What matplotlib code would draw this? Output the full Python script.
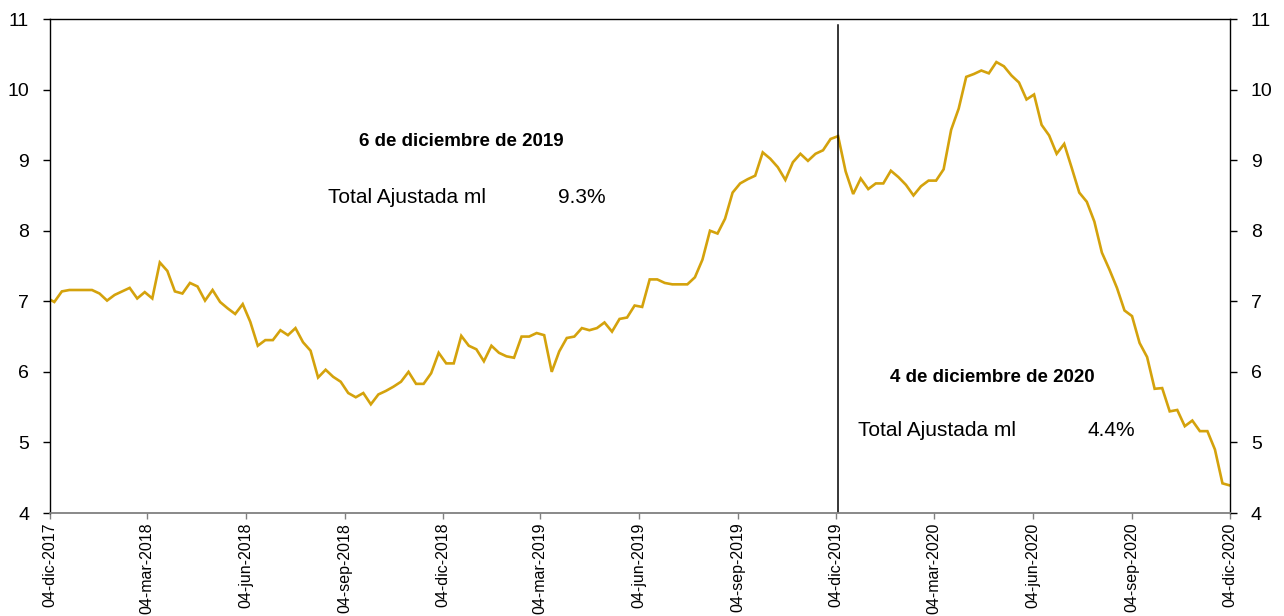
import matplotlib
matplotlib.use("Agg")
import matplotlib.pyplot as plt
import numpy as np
import pandas as pd

plt.rcParams['font.family'] = ['Liberation Sans', 'DejaVu Sans']

# weekly observations (Fridays) from 01-dic-2017 to 04-dic-2020
start_date = "2017-12-01"
values = [
    7.05, 6.99, 7.14, 7.16, 7.16, 7.16, 7.16, 7.11, 7.01, 7.09,
    7.14, 7.19, 7.04, 7.13, 7.04, 7.55, 7.43, 7.14, 7.11, 7.26,
    7.21, 7.01, 7.16, 6.99, 6.90, 6.82, 6.96, 6.71, 6.37, 6.45,
    6.45, 6.59, 6.52, 6.62, 6.42, 6.30, 5.92, 6.03, 5.93, 5.86,
    5.70, 5.64, 5.70, 5.54, 5.68, 5.73, 5.79, 5.86, 6.00, 5.83,
    5.83, 5.98, 6.27, 6.12, 6.12, 6.51, 6.37, 6.32, 6.15, 6.37,
    6.27, 6.22, 6.20, 6.50, 6.50, 6.55, 6.52, 6.00, 6.29, 6.48,
    6.50, 6.62, 6.59, 6.62, 6.70, 6.57, 6.75, 6.77, 6.94, 6.92,
    7.31, 7.31, 7.26, 7.24, 7.24, 7.24, 7.34, 7.59, 8.00, 7.96,
    8.17, 8.54, 8.67, 8.73, 8.78, 9.11, 9.02, 8.90, 8.72, 8.97,
    9.09, 8.99, 9.09, 9.14, 9.30, 9.34, 8.84, 8.52, 8.74, 8.59,
    8.67, 8.67, 8.85, 8.76, 8.65, 8.50, 8.63, 8.71, 8.71, 8.87,
    9.43, 9.73, 10.18, 10.22, 10.27, 10.23, 10.39, 10.33, 10.20, 10.10,
    9.86, 9.93, 9.50, 9.35, 9.09, 9.23, 8.89, 8.54, 8.41, 8.13,
    7.69, 7.45, 7.19, 6.87, 6.79, 6.41, 6.21, 5.76, 5.77, 5.44,
    5.46, 5.23, 5.31, 5.16, 5.16, 4.90, 4.42, 4.39,
]
dates = pd.date_range(start_date, periods=len(values), freq="7D")

tick_dates = ["2017-12-04", "2018-03-04", "2018-06-04", "2018-09-04",
              "2018-12-04", "2019-03-04", "2019-06-04", "2019-09-04",
              "2019-12-04", "2020-03-04", "2020-06-04", "2020-09-04",
              "2020-12-04"]
tick_labels = ["04-dic-2017", "04-mar-2018", "04-jun-2018", "04-sep-2018",
               "04-dic-2018", "04-mar-2019", "04-jun-2019", "04-sep-2019",
               "04-dic-2019", "04-mar-2020", "04-jun-2020", "04-sep-2020",
               "04-dic-2020"]
y_ticks = [4, 5, 6, 7, 8, 9, 10, 11]

marker_date = "2019-12-06"
title1 = "6 de diciembre de 2019"
title2 = "4 de diciembre de 2020"
series_name = "Total Ajustada ml"
pct1 = "9.3%"
pct2 = "4.4%"

W, H = 1284, 616
fig = plt.figure(figsize=(W / 100, H / 100), dpi=100)
ax = fig.add_axes([50 / W, 1 - 513 / H, (1230 - 50) / W, (513 - 19) / H])

ax.plot(dates, values, color="#D4A20C", lw=1.9, solid_joinstyle="miter", clip_on=True)
ax.axvline(pd.Timestamp(marker_date), ymin=0, ymax=0.987, color="black", lw=1.1)

ax.set_xlim(pd.Timestamp(tick_dates[0]), pd.Timestamp(tick_dates[-1]))
ax.set_ylim(4, 11)
ax.set_yticks(y_ticks)
ax.set_yticklabels([str(v) for v in y_ticks])
ax.set_xticks([pd.Timestamp(d) for d in tick_dates])
ax.set_xticklabels(tick_labels, rotation=90, va="top", ha="center")

for s in ["left", "right", "top"]:
    ax.spines[s].set_color("black")
    ax.spines[s].set_linewidth(1.0)
ax.spines["bottom"].set_color("#808080")
ax.spines["bottom"].set_linewidth(1.3)

ax.tick_params(axis="y", which="both", left=True, right=True, labelleft=True,
               labelright=True, direction="out", length=5, width=1.0,
               color="black", labelsize=14, pad=10)
ax.tick_params(axis="x", direction="out", length=4, width=1.0, color="#808080",
               labelsize=11.5, pad=3)

def ftext(xp, yp, s, **kw):
    fig.text(xp / W, 1 - yp / H, s, **kw)

ftext(461.7, 146, title1, ha="center", va="baseline", fontsize=13.5, fontweight="bold")
ftext(328, 202.7, series_name, ha="left", va="baseline", fontsize=15)
ftext(558, 202.7, pct1, ha="left", va="baseline", fontsize=15)

ftext(992.3, 382.3, title2, ha="center", va="baseline", fontsize=13.5, fontweight="bold")
ftext(858, 436, series_name, ha="left", va="baseline", fontsize=15)
ftext(1088, 436, pct2, ha="left", va="baseline", fontsize=15)

fig.savefig("out.png", dpi=100)
